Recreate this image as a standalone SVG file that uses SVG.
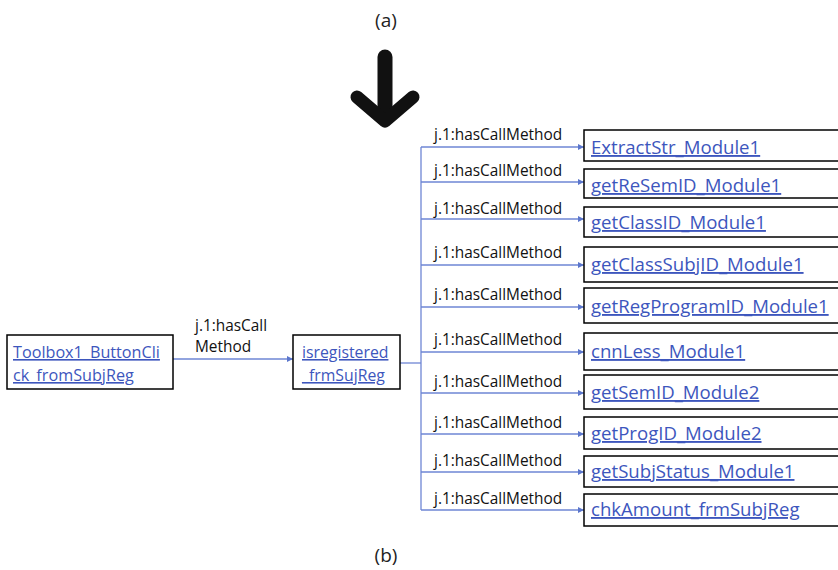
<svg xmlns="http://www.w3.org/2000/svg" width="838" height="570" viewBox="0 0 838 570">
<defs>
<marker id="ah" viewBox="0 0 6 6" refX="6" refY="3" markerWidth="6" markerHeight="6" markerUnits="userSpaceOnUse" orient="auto"><path d="M0,0 L6,3 L0,6 Z" fill="#5b76cc"/></marker>
</defs>
<style>
.box{fill:#fff;stroke:#000;stroke-width:1.5}
.lnk{font-family:"Open Sans","Liberation Sans",sans-serif;font-size:16.2px;fill:#3d56bd;text-decoration:underline}
.mid{font-size:15.8px}
.big{font-size:18.6px}
.lbl{font-family:"Open Sans","Liberation Sans",sans-serif;font-size:15.4px;fill:#111}
.cap{font-family:"Open Sans","Liberation Sans",sans-serif;font-size:19px;fill:#222;text-anchor:middle}
.c{fill:none;stroke:#6e86d4;stroke-width:1.3}
.ca{fill:none;stroke:#6e86d4;stroke-width:1.3;marker-end:url(#ah)}
</style>
<rect width="838" height="570" fill="#fff"/>
<text class="cap" x="386" y="27">(a)</text>
<text class="cap" x="386" y="562">(b)</text>
<g id="bigarrow" fill="none" stroke="#111" stroke-linecap="round" stroke-linejoin="round">
<line x1="385" y1="57" x2="385" y2="116" stroke-width="15"/>
<polyline points="357,97 385,121 413,97" stroke-width="13"/>
</g>
<g id="connectors">
<line class="ca" x1="173" y1="359" x2="293" y2="359"/>
<polyline class="c" points="400,363 421,363"/>
<line class="c" x1="421" y1="147" x2="421" y2="510"/>
<line class="ca" x1="421" y1="147" x2="584" y2="147"/>
<line class="ca" x1="421" y1="182" x2="584" y2="182"/>
<line class="ca" x1="421" y1="219" x2="584" y2="219"/>
<line class="ca" x1="421" y1="265" x2="584" y2="265"/>
<line class="ca" x1="421" y1="307" x2="584" y2="307"/>
<line class="ca" x1="421" y1="352" x2="584" y2="352"/>
<line class="ca" x1="421" y1="393" x2="584" y2="393"/>
<line class="ca" x1="421" y1="434" x2="584" y2="434"/>
<line class="ca" x1="421" y1="472" x2="584" y2="472"/>
<line class="ca" x1="421" y1="510" x2="584" y2="510"/>
<text class="lbl" x="195" y="331">j.1:hasCall</text>
<text class="lbl" x="195" y="352">Method</text>
<text class="lbl" x="434" y="140">j.1:hasCallMethod</text>
<text class="lbl" x="434" y="176">j.1:hasCallMethod</text>
<text class="lbl" x="434" y="214">j.1:hasCallMethod</text>
<text class="lbl" x="434" y="258">j.1:hasCallMethod</text>
<text class="lbl" x="434" y="300">j.1:hasCallMethod</text>
<text class="lbl" x="434" y="345">j.1:hasCallMethod</text>
<text class="lbl" x="434" y="387">j.1:hasCallMethod</text>
<text class="lbl" x="434" y="428">j.1:hasCallMethod</text>
<text class="lbl" x="434" y="466">j.1:hasCallMethod</text>
<text class="lbl" x="434" y="504">j.1:hasCallMethod</text>
</g>
<g id="n-toolbox"><rect class="box" x="7" y="335" width="166" height="54"/><text class="lnk" x="13" y="358">Toolbox1_ButtonCli</text><text class="lnk" x="13" y="381">ck_fromSubjReg</text></g>
<g id="n-isregistered"><rect class="box" x="293" y="335" width="107" height="54"/><text class="lnk mid" x="302" y="358">isregistered</text><text class="lnk mid" x="302" y="381">_frmSujReg</text></g>
<g id="n1"><rect class="box" x="584" y="130" width="260" height="31"/><text class="lnk big" x="591" y="154">ExtractStr_Module1</text></g>
<g id="n2"><rect class="box" x="584" y="169" width="260" height="29"/><text class="lnk big" x="591" y="192">getReSemID_Module1</text></g>
<g id="n3"><rect class="box" x="584" y="207" width="260" height="30"/><text class="lnk big" x="591" y="229">getClassID_Module1</text></g>
<g id="n4"><rect class="box" x="584" y="247" width="260" height="35"/><text class="lnk big" x="591" y="271">getClassSubjID_Module1</text></g>
<g id="n5"><rect class="box" x="584" y="288" width="260" height="35"/><text class="lnk big" x="591" y="313">getRegProgramID_Module1</text></g>
<g id="n6"><rect class="box" x="584" y="333" width="260" height="37"/><text class="lnk big" x="591" y="358">cnnLess_Module1</text></g>
<g id="n7"><rect class="box" x="584" y="375" width="260" height="34"/><text class="lnk big" x="591" y="399">getSemID_Module2</text></g>
<g id="n8"><rect class="box" x="584" y="417" width="260" height="32"/><text class="lnk big" x="591" y="440">getProgID_Module2</text></g>
<g id="n9"><rect class="box" x="584" y="456" width="260" height="31"/><text class="lnk big" x="591" y="478">getSubjStatus_Module1</text></g>
<g id="n10"><rect class="box" x="584" y="494" width="260" height="32"/><text class="lnk big" x="591" y="516">chkAmount_frmSubjReg</text></g>
</svg>
